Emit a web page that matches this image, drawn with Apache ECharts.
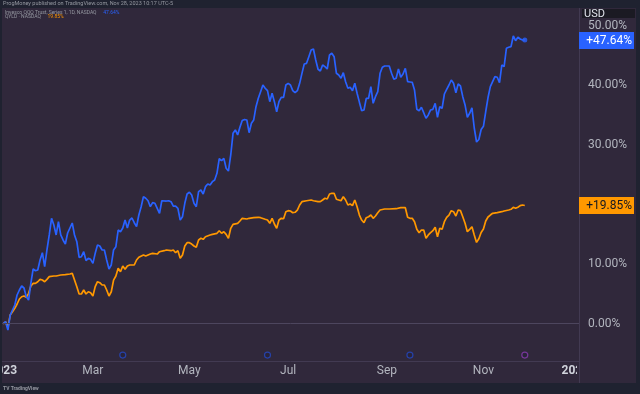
<!DOCTYPE html>
<html><head><meta charset="utf-8">
<script src="https://cdn.jsdelivr.net/npm/echarts@6/dist/echarts.min.js"></script>
<style>html,body{margin:0;padding:0;background:#1f2230;}#c{width:640px;height:394px;}</style>
</head><body><div id="c"></div>
<script>
// ---- data (trading-session index since Jan 3 2023, % change) ----
const qqqDays = [0,1,2,3,4,5,6,7,8,9,10,11,12,13,14,15,16,17,18,19,20,21,22,23,24,25,26,27,28,29,30,31,32,33,34,35,36,37,38,39,40,41,42,43,44,45,46,47,48,49,50,51,52,53,54,55,56,57,58,59,60,61,62,63,64,65,66,67,68,69,71,72,73,74,75,76,77,78,79,80,81,82,83,84,85,86,87,88,89,90,91,92,93,94,95,96,97,98,99,100,101,102,103,104,105,106,107,108,109,110,111,112,113,114,115,116,117,118,119,120,121,122,123,124,125,126,127,128,129,130,131,132,133,134,135,136,137,138,139,140,141,142,143,144,145,146,147,148,149,150,151,152,153,154,155,156,157,158,159,160,161,162,163,164,165,166,167,168,169,170,171,172,173,174,175,176,177,178,179,180,181,182,183,184,185,186,187,188,189,190,191,192,193,194,195,196,197,198,199,200,201,202,203,204,205,206,207,208,209,210,211,212,213,214,215,216,217,218,219,220,221,222,223,224,225,226,227];
const qqqPct = [0.0,0.34,-1.06,1.46,2.30,3.14,4.82,5.66,6.33,6.00,4.53,3.98,6.83,9.19,8.90,9.02,10.70,11.92,9.57,12.38,14.90,17.70,16.57,14.90,17.13,14.90,14.06,13.38,15.23,16.07,16.91,14.90,13.77,11.15,11.25,12.09,10.60,10.98,10.81,10.14,11.82,13.22,13.05,12.38,12.38,10.70,9.19,9.86,12.38,12.93,15.73,15.45,16.07,17.41,16.07,17.41,17.75,16.96,16.29,18.25,19.65,21.33,21.06,20.65,19.65,20.32,20.22,19.38,18.54,20.65,20.60,20.65,20.49,19.76,19.76,19.38,17.41,17.97,20.22,21.78,22.07,21.61,20.22,19.65,22.17,22.45,21.78,23.01,23.46,23.29,23.85,24.13,25.26,27.70,27.37,27.77,26.10,25.64,28.33,31.97,32.53,31.69,32.98,34.12,34.29,34.21,32.07,33.65,34.21,36.44,37.85,38.96,40.08,39.53,39.13,37.28,38.69,37.28,35.60,37.28,38.02,38.02,40.08,40.36,40.08,39.13,38.80,39.13,40.36,42.04,43.61,43.72,44.84,45.96,46.13,44.28,42.72,42.43,43.44,43.16,42.77,45.12,45.41,44.84,42.05,41.76,41.21,42.15,40.64,39.53,39.70,39.13,40.37,38.69,37.20,35.77,35.89,37.85,37.85,39.80,37.01,38.12,38.96,42.05,43.06,43.27,43.27,43.27,42.05,41.04,41.21,42.77,41.38,41.93,42.89,40.64,40.59,40.54,39.24,36.00,35.77,36.34,35.43,34.49,35.05,35.89,36.00,37.01,34.66,36.44,36.17,38.57,39.36,40.08,40.92,40.37,38.79,40.25,39.92,38.12,36.73,34.66,35.33,36.25,32.86,30.51,30.93,32.60,33.15,35.63,37.98,39.80,40.64,41.48,41.38,40.47,43.44,43.16,46.25,46.42,46.52,48.31,47.52,48.09,47.81,47.64,47.64];

const qyldDays = [0,1,2,3,4,5,6,7,8,9,10,11,12,13,14,15,16,17,18,19,20,22,23,25,27,29,30,31,32,33,34,35,36,37,38,39,40,41,42,43,44,45,46,47,48,49,50,51,52,53,54,55,57,58,59,61,62,64,65,67,68,70,71,73,74,75,76,77,78,79,80,81,82,83,84,85,86,87,88,90,91,93,94,95,96,97,98,99,100,102,103,104,106,107,109,111,112,114,115,116,117,118,119,120,121,122,123,124,125,126,127,128,129,130,132,134,135,137,138,139,140,141,142,143,144,145,146,147,148,149,150,151,152,153,154,155,156,157,158,159,160,161,162,163,164,166,168,171,173,175,176,177,178,179,180,181,182,183,184,185,186,187,188,189,190,191,192,193,194,195,196,197,198,199,200,201,202,203,204,205,206,207,208,209,210,211,212,213,215,217,218,220,221,222,223,224,225,226,227];
const qyldPct = [0,0.3,-0.6,1.46,2.02,2.59,3.31,4.15,4.53,4.65,4.43,5.10,6.33,6.78,6.78,7.05,7.45,7.33,7.05,7.45,7.90,8.01,8.01,8.18,8.23,8.35,8.46,7.34,6.22,4.99,4.99,5.66,4.99,5.37,5.21,4.65,6.22,7.05,6.89,6.50,6.50,5.66,4.65,5.37,7.33,8.01,9.30,8.73,9.69,9.14,9.69,9.86,9.86,10.70,11.15,11.54,11.37,11.70,11.82,11.70,12.09,12.26,12.38,12.26,12.38,11.92,12.26,10.98,11.54,13.05,13.60,13.60,13.38,13.05,12.83,14.06,14.34,14.17,14.61,14.89,15.01,15.18,15.62,15.18,15.45,15.01,14.34,16.02,16.69,16.86,17.25,17.70,17.58,17.70,17.80,17.87,17.80,17.53,17.41,16.86,17.70,16.74,16.02,17.41,17.70,17.63,18.81,18.98,18.93,18.64,18.71,19.09,19.93,20.49,20.65,20.77,20.65,20.49,20.49,20.77,21.06,20.94,21.78,21.90,21.90,20.89,20.77,20.65,21.33,20.77,19.93,20.10,19.82,20.77,19.65,18.25,17.41,16.96,17.80,17.97,18.25,17.70,18.09,18.64,19.09,19.26,19.26,19.31,19.48,19.48,17.87,17.70,17.70,17.13,15.85,15.28,15.73,15.73,14.34,14.90,15.28,15.62,16.19,14.61,16.02,15.85,17.13,17.87,18.25,18.98,18.81,18.09,19.09,18.98,17.97,16.86,15.45,15.85,16.29,14.90,13.65,14.26,15.31,15.90,17.25,17.92,18.25,18.54,18.64,18.81,18.93,19.09,19.21,19.55,19.38,19.55,19.82,19.93,19.85];

const tickDays = [0,39,81,124,167,209,249];
const tickLabels = ['2023','Mar','May','Jul','Sep','Nov','2024'];
const yTicks = [0,10,20,30,40,50];
const dividendDays = [52,115,177,227];
const dividendLevel = -5.26;

const qqqName = 'Invesco QQQ Trust, Series 1, 1D, NASDAQ';
const qyldName = 'QYLD · NASDAQ';
const publishedText = 'ProgMoney published on TradingView.com, Nov 28, 2023 10:17 UTC-5';

// ---- style ----
const BG = '#30283b', FRAME = '#1f2230', TXT = '#b2b5be', BLUE = '#2962ff', ORANGE = '#ff9800', SEP = '#423a52';
const FONT = 'Roboto';

const chart = echarts.init(document.getElementById('c'), null, {renderer: 'canvas'});
const pair = (days, vals) => days.map((d, i) => [d, vals[i]]);
const lastQ = qqqPct[qqqPct.length - 1], lastY = qyldPct[qyldPct.length - 1];

chart.setOption({
  animation: false,
  backgroundColor: BG,
  grid: {left: 2, right: 61, top: 8, bottom: 33, outerBoundsMode: 'none', containLabel: false},
  xAxis: {
    type: 'value', min: -0.57, max: 250.6,
    axisLine: {show: true, onZero: false, lineStyle: {color: SEP}},
    axisTick: {show: false}, splitLine: {show: false},
    axisLabel: {customValues: tickDays, alignMinLabel: 'center', alignMaxLabel: 'center', hideOverlap: false,
      formatter: v => { const t = tickLabels[tickDays.indexOf(v)]; return /^\d+$/.test(t) ? '{y|' + t + '}' : t; },
      color: TXT, fontSize: 12, fontFamily: FONT, margin: 4,
      rich: {y: {color: '#d1d4dc', fontSize: 12, fontWeight: 'bold', fontFamily: FONT}}}
  },
  yAxis: {
    type: 'value', position: 'right', min: -6.26, max: 53.01,
    axisLine: {show: true, onZero: false, lineStyle: {color: SEP}},
    axisTick: {show: false}, splitLine: {show: false},
    axisLabel: {customValues: yTicks, formatter: v => v.toFixed(2) + '%', color: TXT, fontSize: 12, fontFamily: FONT, margin: 9, align: 'left'}
  },
  series: [
    {type: 'line', name: 'QYLD', data: pair(qyldDays, qyldPct), showSymbol: false, z: 2,
     lineStyle: {color: ORANGE, width: 1.7}, itemStyle: {color: ORANGE},
     markLine: {silent: true, symbol: 'none', label: {show: false}, lineStyle: {color: '#4d465e', width: 1, type: 'solid'}, data: [{yAxis: 0}]}},
    {type: 'line', name: 'QQQ', data: pair(qqqDays, qqqPct), showSymbol: false, z: 3,
     lineStyle: {color: BLUE, width: 1.7}, itemStyle: {color: BLUE}},
    {type: 'scatter', data: [[qqqDays[qqqDays.length - 1], lastQ]], symbolSize: 5, itemStyle: {color: BLUE}, z: 4},
    {type: 'scatter', data: dividendDays.map((d, i) => ({value: [d, dividendLevel],
       itemStyle: {color: '#28233a', borderColor: i === dividendDays.length - 1 ? '#8a3cb0' : '#2448c4', borderWidth: 1.2}})),
     symbolSize: 6, z: 4}
  ]
});

const py = v => chart.convertToPixel({yAxisIndex: 0}, v);
const box = (val, fill, tcol, id) => {
  const y = py(val);
  return [
    {type: 'rect', id: id + 'r', z: 100, shape: {x: 579, y: Math.round(y) - 8, width: 55, height: 17}, style: {fill: fill}},
    {type: 'text', id: id + 't', z: 101, style: {x: 632, y: Math.round(y) + 0.5, text: '+' + val.toFixed(2) + '%', fill: tcol, font: '12px ' + FONT, align: 'right', verticalAlign: 'middle'}}
  ];
};
chart.setOption({
  graphic: [
    {type: 'rect', z: 90, shape: {x: 577, y: 362, width: 62, height: 22}, style: {fill: BG}},
    {type: 'line', z: 91, shape: {x1: 579.5, y1: 361, x2: 579.5, y2: 383}, style: {stroke: SEP, lineWidth: 1}},
    {type: 'rect', z: 95, shape: {x: 0, y: 383, width: 640, height: 11}, style: {fill: FRAME}},
    {type: 'rect', z: 95, shape: {x: 0, y: 0, width: 2, height: 394}, style: {fill: FRAME}},
    {type: 'rect', z: 95, shape: {x: 636, y: 0, width: 4, height: 394}, style: {fill: FRAME}},
    {type: 'rect', z: 95, shape: {x: 0, y: 0, width: 640, height: 8}, style: {fill: FRAME}},
    {type: 'rect', z: 100, shape: {x: 582, y: 9, width: 53, height: 9}, style: {fill: '#1b1a23'}},
    {type: 'text', z: 101, style: {x: 584, y: 14, text: 'USD', fill: '#e0e3eb', font: '11px ' + FONT, verticalAlign: 'middle'}},
    ...box(lastQ, BLUE, '#ffffff', 'q'),
    ...box(lastY, ORANGE, '#131722', 'y'),
    {type: 'text', z: 101, style: {x: 3, y: 4, text: publishedText, fill: '#9598a1', font: '5.5px ' + FONT, verticalAlign: 'middle'}},
    {type: 'text', z: 101, style: {x: 5, y: 12.5, verticalAlign: 'middle',
      text: '{a|' + qqqName + '}  {b|' + lastQ.toFixed(2) + '%}',
      rich: {a: {fill: '#9598a1', font: '5px ' + FONT}, b: {fill: BLUE, font: '5px ' + FONT}}}},
    {type: 'text', z: 101, style: {x: 5, y: 17, verticalAlign: 'middle',
      text: '{a|' + qyldName + '}  {b|' + lastY.toFixed(2) + '%}',
      rich: {a: {fill: '#9598a1', font: '5px ' + FONT}, b: {fill: ORANGE, font: '5px ' + FONT}}}},
    {type: 'text', z: 101, style: {x: 3, y: 388.5, text: 'TV TradingView', fill: '#9598a1', font: 'bold 5px ' + FONT, verticalAlign: 'middle'}}
  ]
});
</script></body></html>
